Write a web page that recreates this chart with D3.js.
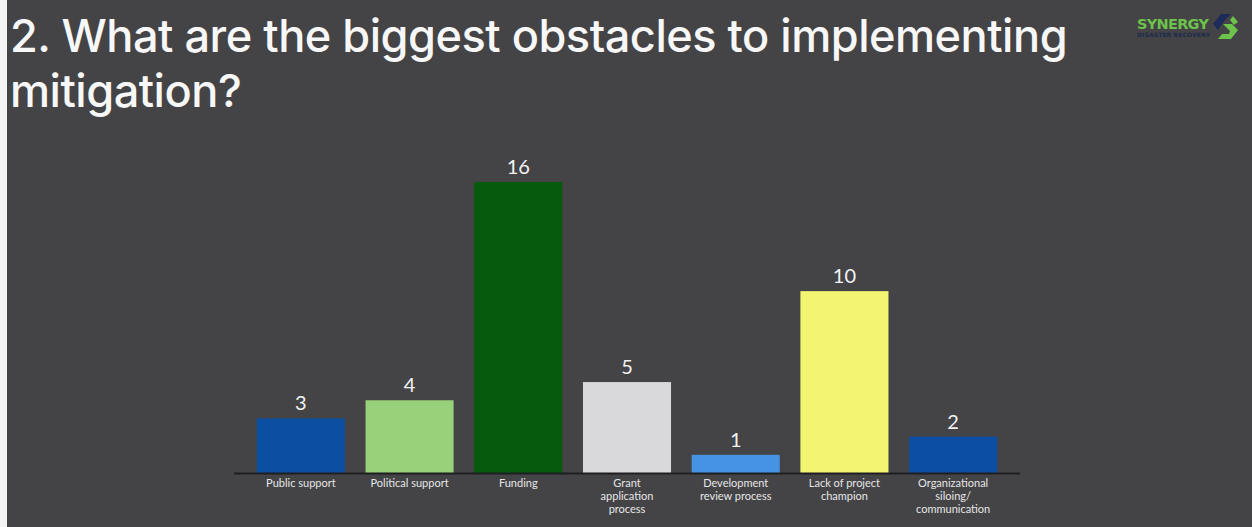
<!DOCTYPE html>
<html>
<head>
<meta charset="utf-8">
<script src="https://cdn.jsdelivr.net/npm/d3@7/dist/d3.min.js"></script>
<style>
  html, body { margin: 0; padding: 0; background: #444446; }
  svg { display: block; }
</style>
</head>
<body>
<svg id="chart" width="1252" height="527"></svg>
<script>
// Survey responses: obstacles to implementing mitigation
const categories = [
  ["Public support"],
  ["Political support"],
  ["Funding"],
  ["Grant", "application", "process"],
  ["Development", "review process"],
  ["Lack of project", "champion"],
  ["Organizational", "siloing/", "communication"]
];
const responses = [3, 4, 16, 5, 1, 10, 2];
const barColors = ["#0b4fa2", "#99d07a", "#055a0e", "#d9d9db", "#4693e6", "#f2f472", "#0c4ea3"];
const titleLines = ["2. What are the biggest obstacles to implementing", "mitigation?"];

const svg = d3.select("#chart");
const W = 1252, H = 527;

svg.append("rect").attr("width", W).attr("height", H).attr("fill", "#444446");
svg.append("rect").attr("x", 0).attr("y", 0).attr("width", 7).attr("height", H).attr("fill", "#f4f4f4");

// Title, sized so the first line spans the header width
const titleFont = "Inter, Lato, sans-serif";
const title = svg.append("g");
const t1 = title.append("text")
  .attr("x", 10).attr("y", 52)
  .attr("fill", "#f7f7f7")
  .attr("font-family", titleFont)
  .attr("font-weight", 500)
  .attr("letter-spacing", -0.5)
  .attr("font-size", 44)
  .text(titleLines[0]);
const w1 = t1.node().getComputedTextLength();
const fs = 44 * 1057 / w1;
t1.attr("font-size", fs);
title.append("text")
  .attr("x", 10).attr("y", 107)
  .attr("fill", "#f7f7f7")
  .attr("font-family", titleFont)
  .attr("font-weight", 500)
  .attr("letter-spacing", -0.5)
  .attr("font-size", fs)
  .text(titleLines[1]);

// Scales
const baseline = 473;
const x = d3.scaleBand()
  .domain(d3.range(categories.length))
  .range([246.5, 1007.5])
  .paddingInner(0.19)
  .paddingOuter(0.095);
const y = d3.scaleLinear().domain([0, 16]).range([baseline, 182]);

const bars = svg.append("g");
bars.selectAll("rect")
  .data(responses)
  .join("rect")
  .attr("x", (d, i) => x(i))
  .attr("y", d => y(d))
  .attr("width", x.bandwidth())
  .attr("height", d => baseline - y(d))
  .attr("fill", (d, i) => barColors[i]);

// Value labels above bars
bars.selectAll("text.value")
  .data(responses)
  .join("text")
  .attr("class", "value")
  .attr("x", (d, i) => x(i) + x.bandwidth() / 2)
  .attr("y", d => y(d) - 8)
  .attr("text-anchor", "middle")
  .attr("fill", "#f2f2f2")
  .attr("font-family", "Lato, 'Open Sans', sans-serif")
  .attr("font-size", 20)
  .text(d => d);

// Category axis
const axis = d3.axisBottom(x).tickSize(0).tickFormat("");
const axisG = svg.append("g").attr("transform", `translate(0,${baseline})`).call(axis);
axisG.select(".domain").remove();
axisG.append("line")
  .attr("x1", 234).attr("x2", 1020)
  .attr("y1", 0.5).attr("y2", 0.5)
  .attr("stroke", "#1f1f22").attr("stroke-width", 2);

axisG.selectAll(".tick").each(function(d) {
  const t = d3.select(this).append("text")
    .attr("text-anchor", "middle")
    .attr("fill", "#e6e6e6")
    .attr("font-family", "Lato, 'Open Sans', sans-serif")
    .attr("font-size", 11)
    .attr("y", 14);
  categories[d].forEach((line, k) => {
    t.append("tspan").attr("x", 0).attr("dy", k === 0 ? 0 : 13).text(line);
  });
});

// Logo
const logo = svg.append("g");
logo.append("text")
  .attr("x", 1137).attr("y", 29)
  .attr("fill", "#6cc24a")
  .attr("font-family", "'DejaVu Sans', sans-serif")
  .attr("font-weight", "bold")
  .attr("font-size", 14.5)
  .attr("textLength", 72)
  .text("SYNERGY");
logo.append("text")
  .attr("x", 1137).attr("y", 37)
  .attr("fill", "#1c2b4d")
  .attr("font-family", "'DejaVu Sans', sans-serif")
  .attr("font-weight", "bold")
  .attr("font-size", 6)
  .attr("textLength", 73)
  .text("DISASTER RECOVERY");
logo.append("path")
  .attr("d", "M1231,14 L1221,14 L1213,24 L1218,30 L1222,24 L1226,19 Z")
  .attr("fill", "#1c2b5a");
logo.append("path")
  .attr("d", "M1223,24 L1232,24 L1238,30 L1231,39 L1218,39 L1222,34 L1229,34 L1230,31 Z")
  .attr("fill", "#6cc24a");
logo.append("path")
  .attr("d", "M1233,16 L1238,22 L1234,25 L1230,20 Z")
  .attr("fill", "#6cc24a");
</script>
</body>
</html>
